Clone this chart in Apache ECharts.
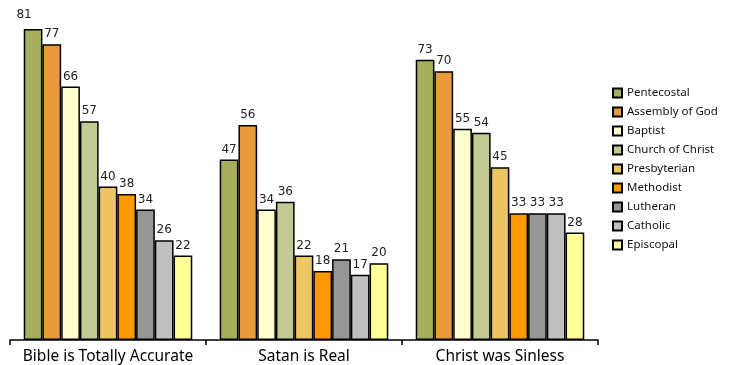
<!DOCTYPE html>
<html>
<head>
<meta charset="utf-8">
<script src="https://cdn.jsdelivr.net/npm/echarts@6/dist/echarts.min.js"></script>
<style>
  html, body { margin: 0; padding: 0; background: #fff; }
  #chart { width: 732px; height: 365px; }
</style>
</head>
<body>
<div id="chart"></div>
<script>
// Statements and denominations
const categories = ['Bible is Totally Accurate', 'Satan is Real', 'Christ was Sinless'];
const denominations = ['Pentecostal', 'Assembly of God', 'Baptist', 'Church of Christ',
  'Presbyterian', 'Methodist', 'Lutheran', 'Catholic', 'Episcopal'];

// Percent agreeing, per denomination, in category order
const pentecostal    = [81, 47, 73];
const assemblyOfGod  = [77, 56, 70];
const baptist        = [66, 34, 55];
const churchOfChrist = [57, 36, 54];
const presbyterian   = [40, 22, 45];
const methodist      = [38, 18, 33];
const lutheran       = [34, 21, 33];
const catholic       = [26, 17, 33];
const episcopal      = [22, 20, 28];

const seriesValues = [pentecostal, assemblyOfGod, baptist, churchOfChrist,
  presbyterian, methodist, lutheran, catholic, episcopal];

const colors = ['#A6AE5C', '#E89A3C', '#FFFFD0', '#C3C992', '#ECC664',
  '#FF9900', '#969696', '#C0C0C0', '#FFFF99'];

const chart = echarts.init(document.getElementById('chart'), null, { renderer: 'canvas' });

const series = denominations.map((name, i) => ({
  name: name,
  type: 'bar',
  barGap: '0%',
  barCategoryGap: '14%',
  data: seriesValues[i].map((v, j) => {
    const d = { value: v };
    // the tallest bar's label sits a little up and to the left
    if (i === 0 && j === 0) d.label = { offset: [-9, -4] };
    return d;
  }),
  itemStyle: { color: colors[i], borderColor: '#000', borderWidth: 1.5 },
  label: {
    show: true,
    position: 'top',
    distance: 4,
    color: '#222',
    fontFamily: 'DejaVu Sans',
    fontSize: 12
  }
}));

chart.setOption({
  animation: false,
  backgroundColor: '#fff',
  grid: { left: 10, right: 134, top: 29, bottom: 24, containLabel: false },
  legend: {
    orient: 'vertical',
    left: 612,
    top: 86,
    padding: 0,
    itemWidth: 9,
    itemHeight: 9,
    itemGap: 5,
    icon: 'rect',
    textStyle: { fontFamily: 'Noto Sans', fontSize: 11.5, color: '#111', lineHeight: 14 },
    data: denominations
  },
  xAxis: {
    type: 'category',
    data: categories,
    axisLine: { lineStyle: { color: '#000', width: 1.5 } },
    axisTick: { show: true, length: 5, lineStyle: { color: '#000', width: 1.5 } },
    axisLabel: { interval: 0, fontFamily: 'Noto Sans', fontSize: 15.5, color: '#000', margin: 9 }
  },
  yAxis: {
    type: 'value',
    min: 0,
    max: 81,
    show: false,
    splitLine: { show: false }
  },
  series: series
});
</script>
</body>
</html>
